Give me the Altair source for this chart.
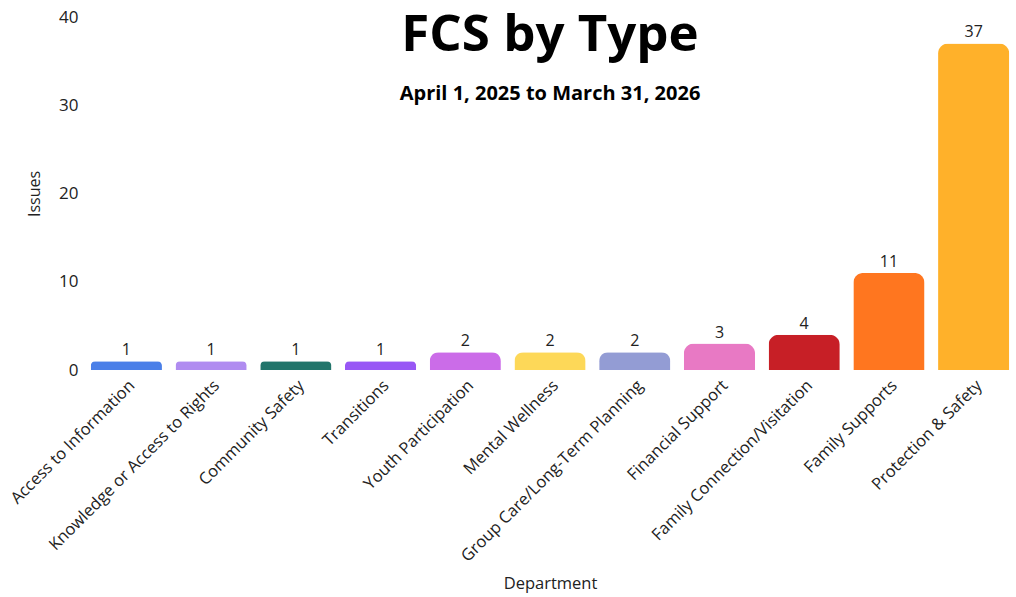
import altair as alt
import pandas as pd

categories = [
    "Access to Information",
    "Knowledge or Access to Rights",
    "Community Safety",
    "Transitions",
    "Youth Participation",
    "Mental Wellness",
    "Group Care/Long-Term Planning",
    "Financial Support",
    "Family Connection/Visitation",
    "Family Supports",
    "Protection & Safety",
]
issues = [1, 1, 1, 1, 2, 2, 2, 3, 4, 11, 37]
colors = [
    "#4A7FE8", "#B08CF0", "#22756B", "#9857F5", "#CB6CE8", "#FDD858",
    "#939CD4", "#E879C4", "#C71F26", "#FF761F", "#FFB12A",
]
y_ticks = [0, 10, 20, 30, 40]

df = pd.DataFrame({"Department": categories, "Issues": issues})

FONT = "Open Sans"

x = alt.X(
    "Department:N",
    sort=categories,
    scale=alt.Scale(paddingInner=0.16, paddingOuter=0.08),
    axis=alt.Axis(
        labelAngle=-45,
        labelFontSize=16.5,
        labelColor="#222",
        labelFont=FONT,
        labelLimit=0,
        ticks=False,
        domain=False,
        labelPadding=7,
        title="Department",
        titleFontSize=16.5,
        titleFont=FONT,
        titleFontWeight="normal",
        titleColor="#222",
        titleY=205,
    ),
)

y = alt.Y(
    "Issues:Q",
    scale=alt.Scale(domain=[0, 40]),
    axis=alt.Axis(
        values=y_ticks,
        grid=False,
        ticks=False,
        domain=False,
        labelFontSize=17,
        labelFont=FONT,
        labelColor="#222",
        labelPadding=6,
        title="Issues",
        titleFontSize=16,
        titleFont=FONT,
        titleFontWeight="normal",
        titleColor="#222",
        titleX=-42,
    ),
)

bars = alt.Chart(df).mark_bar(
    cornerRadiusTopLeft=10, cornerRadiusTopRight=10
).encode(
    x=x,
    y=y,
    color=alt.Color("Department:N", scale=alt.Scale(domain=categories, range=colors), legend=None),
)

labels = alt.Chart(df).mark_text(
    baseline="bottom", dy=-3, fontSize=16, font=FONT, color="#222"
).encode(
    x=alt.X("Department:N", sort=categories),
    y=alt.Y("Issues:Q"),
    text="Issues:Q",
)

chart = alt.layer(bars, labels).properties(
    width=932,
    height=353,
    autosize=alt.AutoSizeParams(type="none"),
    padding={"left": 84, "top": 17, "right": 0, "bottom": 224},
    title=alt.TitleParams(
        text="FCS by Type",
        subtitle="April 1, 2025 to March 31, 2026",
        anchor="middle",
        frame="group",
        offset=-97,
        font=FONT,
        fontSize=51,
        fontWeight="bold",
        color="#000",
        subtitleFont=FONT,
        subtitleFontSize=20,
        subtitleFontWeight="bold",
        subtitleColor="#000",
        subtitlePadding=22,
    ),
).configure_view(stroke=None)

chart.save("out.html", embed_options={"renderer": "svg", "actions": False})
